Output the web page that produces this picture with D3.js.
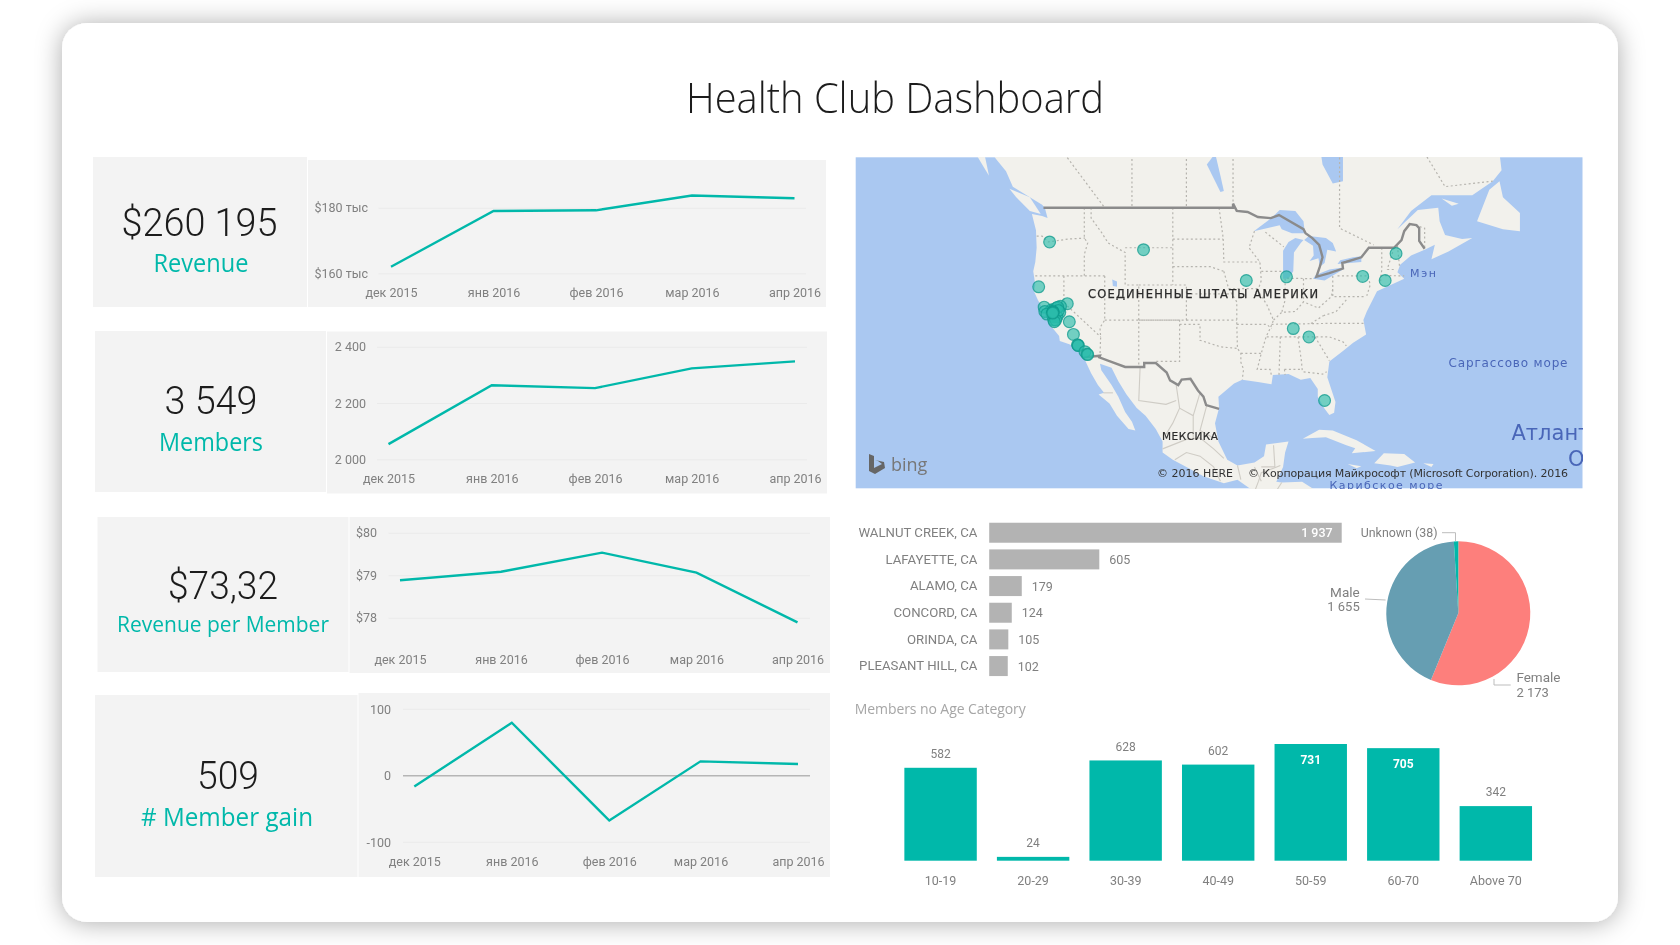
<!DOCTYPE html>
<html><head><meta charset="utf-8">
<script src="https://cdn.jsdelivr.net/npm/d3@7"></script>
<style>
html,body{margin:0;padding:0;background:#fff;overflow:hidden}
svg{display:block}
text{font-family:Roboto,sans-serif}
.axis text{font-family:Roboto,sans-serif;font-size:12.5px;fill:#808080}
.axis .domain{display:none}
.city text{font-size:13px}
</style></head><body>
<svg id="c" width="1680" height="945"></svg>
<script>
// ---------- data ----------
const months = ["2015-12-01","2016-01-01","2016-02-01","2016-03-01","2016-04-01"];
const monthLabels = ["дек 2015","янв 2016","фев 2016","мар 2016","апр 2016"];
const revenue = [162000,179000,179200,183700,182900];
const members = [2054,2263,2253,2323,2348];
const revenuePerMember = [78.88,79.08,79.53,79.06,77.89];
const memberGain = [-17,79,-68,21,17];
const revenueTicks = [160000,180000], revenueTickLabels = ["$160 тыс","$180 тыс"];
const memberTicks = [2000,2200,2400], memberTickLabels = ["2 000","2 200","2 400"];
const rpmTicks = [78,79,80], rpmTickLabels = ["$78","$79","$80"];
const gainTicks = [-100,0,100], gainTickLabels = ["-100","0","100"];
const kpiValues = ["$260 195","3 549","$73,32","509"];
const kpiNames = ["Revenue","Members","Revenue per Member","# Member gain"];
const cities = ["WALNUT CREEK, CA","LAFAYETTE, CA","ALAMO, CA","CONCORD, CA","ORINDA, CA","PLEASANT HILL, CA"];
const cityMembers = [1937,605,179,124,105,102];
const genders = ["Female","Male","Unknown"];
const genderMembers = [2173,1655,38];
const ageGroups = ["10-19","20-29","30-39","40-49","50-59","60-70","Above 70"];
const ageMembers = [582,24,628,602,731,705,342];
const mapPoints = [[-122.1,45.6],[-108.3,44.8],[-93.2,41.5],[-87.3,41.9],[-76.1,41.95],[-72.8,41.5],[-71.2,44.4],
 [-123.7,40.8],[-119.5,38.9],[-119.2,36.8],[-118.6,35.3],[-117.9,34.0],[-118.0,34.05],[-117.9,33.95],[-116.9,33.2],[-116.6,32.9],[-116.5,32.85],
 [-86.3,36.0],[-84.0,35.0],[-81.7,27.0],
 [-121.9,38.1],[-121.8,38.2],[-121.7,37.9],[-121.65,37.9],[-121.6,37.85],[-121.55,37.8],[-121.7,37.6],[-121.6,37.5],[-121.5,37.4],[-121.75,37.75],
 [-122.9,38.5],[-122.8,38.0],[-122.5,37.7],[-120.5,38.6],[-120.6,37.9],[-121,37.4],[-121.5,37.0],
 [-121.1,38.4],[-120.9,38.5],[-120.8,38.1],[-121.2,37.0],[-121.4,36.8],[-121.6,38.0],[-121.62,37.93],[-121.58,37.88],[-121.65,37.82]];
const land = [[-140,58],[-134,56],[-131,54.4],[-130,53.5],[-128.5,52.4],[-127.5,51],[-125,50],[-123.2,49.3],[-122.8,49],[-122.4,48],[-123.2,48.2],[-124.7,48.4],[-124.1,46.8],[-124,45],[-124.2,43.5],[-124.5,42.5],[-124.2,41],[-124.4,40.3],[-123.8,39.3],[-123,38.2],[-122.5,37.6],[-122,36.8],[-121.9,36.3],[-120.7,35.1],[-120.6,34.5],[-119.2,34.1],[-118.4,33.8],[-117.3,33],[-117.1,32.5],[-116,30.5],[-115,29],[-114.1,28],[-114.9,27.8],[-113.3,26.6],[-112.2,25],[-110.5,23.2],[-109.5,23],[-110,24.2],[-111,25.5],[-112,27.5],[-113,29],[-114.5,30.9],[-114.7,31.7],[-113,31.2],[-112,29.5],[-110.8,27.8],[-109.3,26],[-108,25],[-106.5,23.2],[-105.5,21.5],[-105.5,20],[-104,19],[-102,18],[-99.5,16.7],[-96.5,15.7],[-94.5,16.2],[-92,14.5],[-90,13.7],[-87.5,13],[-85.5,11],[-83,8.5],[-77,8],[-77,9],[-80,9.2],[-83.5,10.5],[-83.5,15],[-85,15.9],[-88,15.8],[-88.8,15.9],[-87.8,18],[-87.5,20],[-87,21.5],[-90.3,21.1],[-90.6,19.5],[-92,18.6],[-94.5,18.2],[-96,19],[-97.3,21.5],[-97.8,24],[-97.2,26],[-97.3,27.5],[-95,29.2],[-93.8,29.7],[-91.5,29.4],[-89.5,29.1],[-89.3,30.3],[-87,30.4],[-85.2,29.7],[-83.8,29.9],[-82.7,28.5],[-82.7,27.5],[-81.7,25.9],[-81,25.1],[-80.3,25.4],[-80.1,26.8],[-81.3,30],[-81,32],[-79,33.3],[-77.5,34.3],[-75.6,35.3],[-76,37],[-75.5,38],[-74,40.3],[-72,41],[-70,41.7],[-71,42.4],[-70.6,43.2],[-69,44.2],[-67,44.8],[-65.5,45.3],[-66,43.8],[-63.5,44.6],[-60,46],[-61.5,45.9],[-64,46.3],[-64.8,47.7],[-65,49],[-68,48.8],[-71,46.9],[-69,48.7],[-66,50.2],[-60,50.2],[-57,51.5],[-55.7,52.5],[-56,54],[-56,56],[-60,62],[-140,62]];
const islands = [
 [[-84.9,21.9],[-82.5,23.1],[-80.5,23],[-77,21.7],[-74.2,20.2],[-77.7,19.9],[-77.2,20.6],[-78.5,21],[-81.5,22.1],[-83.5,22]],
 [[-74.4,18.5],[-73,19.9],[-70,19.8],[-68.4,18.6],[-71,18],[-72,18.2]],
 [[-78.3,18.4],[-76.3,18.1],[-77,17.8]],[[-67.2,18.5],[-65.7,18.4],[-66,18]],
 [[-128,50.8],[-125,50],[-123.4,48.4],[-125,48.7],[-127,50]],
 [[-133,54],[-131.7,54],[-131,52],[-132,53]],
 [[-59.3,47.7],[-57.5,50.7],[-56,51.5],[-55.5,50],[-53,48.5],[-53,46.7],[-55.5,46.9]],
 [[-64.5,49.9],[-62,49.4],[-63,49.2]]];
const lakes = [
 [[-92.1,46.7],[-89.5,48],[-88.3,48.8],[-86,48.7],[-84.8,47.7],[-84.6,46.5],[-86.5,46.5],[-88,46.9],[-88.3,47.3]],
 [[-87.8,41.7],[-87,41.7],[-86.3,42.5],[-86.2,44.5],[-85.2,45.5],[-84.8,45.8],[-86,46],[-87,45.6],[-87.8,44.7],[-87.8,43]],
 [[-84.7,45.8],[-83.4,45.2],[-83.3,44.2],[-83.9,43.6],[-82.6,43.9],[-82.4,43],[-81.7,43.4],[-81.3,44.8],[-80,44.6],[-80.5,45.5],[-81.5,46],[-84,46.2]],
 [[-83.4,41.7],[-81.7,41.5],[-79,42.7],[-79,42.9],[-81,42.7],[-83,42.1]],
 [[-79.8,43.3],[-76.3,43.5],[-76.3,44.1],[-77.5,44],[-79.4,43.7]],
 [[-82.5,55],[-82,53],[-80.5,51.3],[-79,51.5],[-79,54],[-77,56],[-92,58],[-85,55.5]],
 [[-98,53.8],[-99,53],[-97,50.5],[-96.5,50.6],[-97,52],[-97.7,53.8]],
 [[-112.9,41.6],[-112.2,41.4],[-112.2,40.8],[-112.8,40.9]]];
const nationalBorders = [
 [[-123,49],[-95.15,49],[-95.15,49.4],[-94.6,48.7],[-93,48.6],[-91.5,48.1],[-89.6,48],[-88.4,48.3],[-84.8,46.9],[-84.5,46.5],[-83.5,46],[-82.5,45.3],[-82,44],[-82.4,43],[-82.9,41.9],[-81,42.3],[-79,42.8],[-79.1,43.4],[-78.6,43.5],[-76.3,44],[-75.2,45],[-71.5,45],[-70.4,45.8],[-70,46.7],[-69.2,47.4],[-68.2,47.3],[-67.8,47],[-67.8,45.7],[-67,44.9]],
 [[-117.1,32.5],[-114.7,32.7],[-114.8,32.5],[-111,31.3],[-108.2,31.3],[-108.2,31.8],[-106.5,31.8],[-104.9,30.6],[-104.4,29.6],[-103.2,29],[-102.7,29.7],[-101.4,29.8],[-100.3,28.3],[-99.5,27.5],[-99.1,26.4],[-97.2,25.9]]];
const stateBorders = [
 [[-124,46.2],[-123.2,46.2],[-122.3,45.6],[-119.3,45.9],[-116.9,46]],[[-124.2,42],[-114,42]],
 [[-117,49],[-117,46],[-116.5,45.5],[-117,44.3],[-117,42]],[[-120,42],[-120,39],[-114.6,35]],[[-114,42],[-114,37],[-114.7,36.1],[-114.6,35],[-114.7,32.7]],
 [[-116,49],[-116,48],[-114.5,46.6],[-113.5,45.5],[-111,44.5],[-111,41],[-109,41]],[[-111,45],[-104,45]],
 [[-109,41],[-102,41],[-102,37],[-109,37],[-109,41]],[[-114,37],[-109,37],[-109,31.3]],[[-109,37],[-103,37],[-103,32],[-106.6,32]],
 [[-104,49],[-104,41]],[[-104,45.9],[-96.6,45.9]],[[-104,43],[-98.5,43],[-96.5,42.5]],[[-102,40],[-95.3,40]],[[-102,37],[-94.6,37]],
 [[-103,36.5],[-100,36.5],[-100,34.6],[-97,33.8],[-94.5,33.6]],[[-97.2,49],[-96.6,46],[-96.5,43.5],[-91.2,43.5]],[[-95.8,40.6],[-91.5,40.6]],
 [[-96.5,42.5],[-95.8,40.6],[-95.3,40],[-94.6,39.1],[-94.6,36.5],[-94.5,33.6],[-94,33],[-94,31.9],[-93.6,31],[-93.8,29.7]],[[-94.6,36.5],[-90.2,36.5],[-89.5,36]],
 [[-92,46.7],[-92.8,45],[-91.2,43.5],[-91,41.5],[-91.5,40.4],[-90.2,38.8],[-89.2,37],[-89.7,36],[-90.3,35],[-91,33],[-91.6,31],[-89.7,31],[-89.5,30.2]],[[-94,33],[-91,33]],
 [[-91,42.5],[-87.8,42.5]],[[-87.5,41.7],[-87.5,39.3],[-88,37.9]],[[-84.8,41.7],[-84.8,39.1]],[[-89.2,37],[-88,37.9],[-86,38],[-84.8,39.1],[-82.6,38.4],[-80.7,39.7],[-80.5,40.6]],
 [[-80.5,42],[-80.5,39.7],[-75.7,39.7]],[[-79.8,42],[-75.3,42],[-75,41],[-75.5,39.8]],[[-89.5,36.5],[-81.7,36.6],[-75.9,36.6]],[[-90.2,35],[-81,35],[-79,34.4],[-78.5,33.9]],
 [[-85.6,35],[-85.1,32],[-85,31],[-84.9,30.7],[-82,30.4],[-81.4,30.7]],[[-83.1,35],[-81,32.1]],[[-88.2,35],[-88.4,30.3]],[[-87.6,31],[-85,31]],[[-87.6,31],[-87.5,30.3]],
 [[-81.9,37.5],[-80,38],[-78.3,39.5]],[[-83.7,36.6],[-81.9,37.5]],[[-73.3,45],[-73.3,42.7],[-73.5,41.2]],[[-73.5,42.05],[-70,42]],[[-72.5,42.7],[-71.3,42.7]],[[-71.5,45],[-72.5,42.7]],[[-71,45.2],[-70.7,43.1]],
 [[-87.2,41.75],[-83.4,41.7]],[[-90.4,46.6],[-87.7,45.1]],
 [[-120,60],[-120,54],[-114,49]],[[-110,60],[-110,49]],[[-102,60],[-102,49]],[[-95.15,60],[-95.15,49.4]],[[-79.5,54],[-79.5,47],[-74.5,45.3]],[[-67,54],[-64,51],[-57,51.5]],[[-69,47.4],[-67,47],[-67,45]]];
const mexicoBorders = [
 [[-108.8,31.3],[-109,27],[-105,26.5],[-103.5,27]],[[-103.5,29],[-103,26],[-101,25],[-101,22]],[[-105,22.5],[-104,24],[-103,26]],[[-100,28],[-101,25]],
 [[-99,26.4],[-100,23],[-98,22]],[[-105.5,20.5],[-102,21.8],[-100,22],[-98,20.5],[-96.5,19.2]],[[-103.7,19],[-102,20],[-100,19.5],[-98,18],[-97,16]],[[-94.5,18.2],[-94,16.2]],
 [[-92,18],[-91,16]],[[-91,18],[-89,18],[-89.2,21]],[[-114.2,28],[-112.8,28]],[[-92,14.5],[-91.4,16],[-91,17.2],[-89.2,17.8],[-88.2,18.2]],[[-89.2,14],[-88,15.8]]];

// ---------- page ----------
const svg = d3.select("#c");
const defs = svg.append("defs");
const sh = defs.append("filter").attr("id","shadow").attr("x","-5%").attr("y","-8%").attr("width","110%").attr("height","116%");
sh.append("feDropShadow").attr("dx",0).attr("dy",1).attr("stdDeviation",13).attr("flood-color","#000").attr("flood-opacity",.33);
defs.append("filter").attr("id","soft").append("feGaussianBlur").attr("stdDeviation",.35);
const soft = defs.append("filter").attr("id","softer");
soft.append("feGaussianBlur").attr("stdDeviation",.55);
svg.append("rect").attr("x",62).attr("y",23).attr("width",1556).attr("height",899).attr("rx",25).attr("fill","#fff").attr("filter","url(#shadow)");
const root = svg.append("g").attr("filter","url(#soft)");

root.append("text").text("Health Club Dashboard").attr("x",895).attr("y",113).attr("text-anchor","middle")
 .attr("textLength",418).attr("lengthAdjust","spacingAndGlyphs")
 .style("font-family","'Open Sans'").style("font-weight",300).style("font-size","42px").attr("fill","#1f1f1f");

const TEAL = "#01B8AA";
const dates = months.map(d => new Date(d+"T00:00:00Z"));
const layouts = [
 {box:[93,157,307,307],chart:[307,160,826,307],xr:[391,794.5],gx:[378.5,806],yd:[180000,160000],yr:[207.7,273.3],xl:295,vals:revenue,ticks:revenueTicks,labs:revenueTickLabels,lx:368,
  vx:199.5,vy:236,vs:39,vw:156,nx:201,ny:271.7,ns:25,nw:95},
 {box:[95,331,326,492],chart:[326,331.5,827,493.5],xr:[388.5,795],gx:[377,807],yd:[2400,2000],yr:[346.7,459.3],xl:481,vals:members,ticks:memberTicks,labs:memberTickLabels,lx:366,
  vx:211,vy:414,vs:39,vw:93,nx:211,ny:450.5,ns:25,nw:104},
 {box:[97.5,517,348.5,672],chart:[348.5,517,830,673],xr:[400,797.5],gx:[388.5,810],yd:[80,78],yr:[532.7,617.7],xl:662,vals:revenuePerMember,ticks:rpmTicks,labs:rpmTickLabels,lx:377,
  vx:223,vy:598.7,vs:39,vw:110,nx:223,ny:631.7,ns:22.5,nw:212},
 {box:[95,695,357.5,877],chart:[357.5,693,830,877],xr:[414.3,798],gx:[403,810],yd:[100,-100],yr:[708.8,841.8],xl:864,vals:memberGain,ticks:gainTicks,labs:gainTickLabels,lx:391,
  vx:228,vy:789,vs:39,vw:62,nx:227,ny:826,ns:25,nw:172}];

layouts.forEach((L,i)=>{
 const g = root.append("g");
 g.append("rect").attr("x",L.box[0]).attr("y",L.box[1]).attr("width",L.box[2]-L.box[0]).attr("height",L.box[3]-L.box[1]).attr("fill","#f3f3f3");
 g.append("rect").attr("x",L.chart[0]+1).attr("y",L.chart[1]).attr("width",L.chart[2]-L.chart[0]-1).attr("height",L.chart[3]-L.chart[1]).attr("fill","#f3f3f3");
 g.append("text").text(kpiValues[i]).attr("x",L.vx).attr("y",L.vy).attr("text-anchor","middle").attr("textLength",L.vw).attr("lengthAdjust","spacingAndGlyphs")
  .style("font-size",L.vs+"px").style("font-weight",300).attr("fill","#1c1c1c");
 g.append("text").text(kpiNames[i]).attr("x",L.nx).attr("y",L.ny).attr("text-anchor","middle").attr("textLength",L.nw).attr("lengthAdjust","spacingAndGlyphs")
  .style("font-family","'Open Sans'").style("font-size",L.ns+"px").attr("fill",TEAL);
 const x = d3.scaleUtc().domain([dates[0],dates[4]]).range(L.xr);
 const y = d3.scaleLinear().domain(L.yd).range(L.yr);
 const ya = g.append("g").attr("class","axis").attr("transform",`translate(${L.gx[0]},0)`)
  .call(d3.axisLeft(y).tickValues(L.ticks).tickSize(-(L.gx[1]-L.gx[0])).tickPadding(L.gx[0]-L.lx).tickFormat((d,j)=>L.labs[j]));
 ya.selectAll("line").attr("stroke",d=>(i===3&&d===0)?"#b5b5b5":"#eaeaea").attr("stroke-width",d=>(i===3&&d===0)?1.5:1);
 ya.selectAll("text").attr("dy","0.34em");
 const xa = g.append("g").attr("class","axis").attr("transform",`translate(0,${L.xl-9})`)
  .call(d3.axisBottom(x).tickValues(dates).tickSize(0).tickPadding(0).tickFormat((d,j)=>monthLabels[j]));
 xa.selectAll("text").attr("dy","0.85em");
 g.append("path").attr("d",d3.line().x((d,j)=>x(dates[j])).y(d=>y(d))(L.vals)).attr("fill","none").attr("stroke",TEAL).attr("stroke-width",2.4);
});

// ---------- map ----------
const MX=855.7, MY=157.3, MW=726.8, MH=331;
defs.append("clipPath").attr("id","mapclip").append("rect").attr("x",MX).attr("y",MY).attr("width",MW).attr("height",MH);
const map = root.append("g").attr("clip-path","url(#mapclip)");
const proj = d3.geoMercator().scale(390).translate([1880.7,591.5]);
const poly = d3.line().x(d=>proj(d)[0]).y(d=>proj(d)[1]);
const closed = pts => poly(pts)+"Z";
const WATER="#aac8f1", LAND="#f2f1ec";
const mapG = map.append("g").attr("filter","url(#softer)");
mapG.append("rect").attr("x",MX).attr("y",MY).attr("width",MW).attr("height",MH).attr("fill",WATER);
mapG.append("path").attr("d",closed(land)).attr("fill",LAND);
mapG.selectAll(".isl").data(islands).join("path").attr("d",closed).attr("fill",LAND);
mapG.selectAll(".lake").data(lakes).join("path").attr("d",closed).attr("fill",WATER);
mapG.selectAll(".mx").data(mexicoBorders).join("path").attr("d",poly).attr("fill","none").attr("stroke","#cfccc5").attr("stroke-width",1.1);
mapG.selectAll(".st").data(stateBorders).join("path").attr("d",poly).attr("fill","none").attr("stroke","#b6b4ae").attr("stroke-width",1.2).attr("stroke-dasharray","2 2.5");
mapG.selectAll(".nb").data(nationalBorders).join("path").attr("d",poly).attr("fill","none").attr("stroke","#8b8b8b").attr("stroke-width",2.4);
map.selectAll(".pt").data(mapPoints).join("circle").attr("cx",d=>proj(d)[0]).attr("cy",d=>proj(d)[1]).attr("r",5.9)
 .attr("fill","#2bbcaa").attr("fill-opacity",.64).attr("stroke","#0f9a8c").attr("stroke-opacity",.75).attr("stroke-width",1.2);
const mapText=(t,x,y,s,c,a,w,ff)=>map.append("text").text(t).attr("x",x).attr("y",y).attr("text-anchor",a||"middle").style("font-size",s+"px").attr("fill",c).style("font-weight",w||400).style("font-family",ff||"'DejaVu Sans'");
const sea="#4a66b8";
mapText("СОЕДИНЕННЫЕ ШТАТЫ АМЕРИКИ",1203,298,11.5,"#2a2a2a","middle",400).attr("textLength",230).attr("stroke","#2a2a2a").attr("stroke-width",.25);
mapText("МЕКСИКА",1190,440,10.5,"#2a2a2a").attr("textLength",56).attr("stroke","#2a2a2a").attr("stroke-width",.2);
mapText("Мэн",1423,277,11,sea).attr("textLength",26);
mapText("Саргассово море",1508,367,12,sea).attr("textLength",119);
mapText("Атлантический",1511.5,440,21,sea,"start");
mapText("Океан",1568,466,21,sea,"start");
mapText("Карибское море",1386,489,11,sea).attr("textLength",113);
mapText("© 2016 HERE",1157,477,11,"#333","start").attr("textLength",76);
mapText("© Корпорация Майкрософт (Microsoft Corporation). 2016",1248,477,11,"#333","start").attr("textLength",320);
mapText("bing",891,471,18,"#777","start",400,"'Open Sans'");
map.append("path").attr("d","M869,454 L874,456 L874,468 L882,464 L878,461 L875,460 L884,462 L885,468 L875,474 L869,471Z").attr("fill","#666");

// ---------- city bars ----------
const cityG = root.append("g");
const bx = d3.scaleLinear().domain([0,1937]).range([989.2,1341.7]);
const by = d3.scaleBand().domain(cities).range([519.4,679.4]).paddingInner(.25).paddingOuter(.125);
cityG.selectAll("rect").data(cities).join("rect").attr("x",bx(0)).attr("y",d=>by(d)).attr("width",(d,i)=>bx(cityMembers[i])-bx(0)).attr("height",by.bandwidth()).attr("fill","#b3b3b3");
const cax = cityG.append("g").attr("class","axis city").attr("transform","translate(977.4,0)").call(d3.axisLeft(by).tickSize(0).tickPadding(0));
cax.selectAll("text").style("font-size","13.2px");
cityG.selectAll(".val").data(cities).join("text").text((d,i)=>d3.format(",")(cityMembers[i]).replace(/,/g," "))
 .attr("x",(d,i)=>i===0?bx(cityMembers[0])-9:bx(cityMembers[i])+10).attr("y",d=>by(d)+by.bandwidth()/2+.5).attr("dy","0.34em")
 .attr("text-anchor",(d,i)=>i===0?"end":"start").style("font-size","12.5px").style("font-weight",(d,i)=>i===0?500:400).attr("fill",(d,i)=>i===0?"#fff":"#808080");

// ---------- pie ----------
const pieG = root.append("g").attr("transform","translate(1458.3,613.3)");
const pieColors = d3.scaleOrdinal().domain(genders).range(["#FD7F7C","#669EB2",TEAL]);
const arcs = d3.pie().sort(null)(genderMembers);
pieG.selectAll("path").data(arcs).join("path").attr("d",d3.arc().innerRadius(0).outerRadius(72)).attr("fill",(d,i)=>pieColors(genders[i]));
const leader=[[[1442,532.7],[1455.5,532.7],[1455.5,541]],[[1365,599],[1385.6,600]],[[1494,679],[1494,685],[1510.7,685]]];
root.selectAll(".lead").data(leader).join("path").attr("d",d3.line()).attr("fill","none").attr("stroke","#bdbdbd").attr("stroke-width",1);
const pl=(t,x,y,a,s)=>root.append("text").text(t).attr("x",x).attr("y",y).attr("text-anchor",a).attr("dy","0.34em").style("font-size",(s||13)+"px").attr("fill","#808080");
pl(`${genders[2]} (${genderMembers[2]})`,1437.5,532.7,"end",12.4);
pl(genders[1],1359.7,592.7,"end",13.5);pl("1 655",1359.7,607,"end");
pl(genders[0],1516.4,677,"start",13.5);pl("2 173",1516.4,692.7,"start");

// ---------- age columns ----------
const ageG = root.append("g");
ageG.append("text").text("Members no Age Category").attr("x",854.7).attr("y",713.5).style("font-size","14px").style("font-family","'Open Sans'").attr("fill","#a6a6a6").attr("textLength",171);
const ax = d3.scaleBand().domain(ageGroups).range([894,1542.4]).paddingInner(.2175).paddingOuter(.112);
const ay = d3.scaleLinear().domain([0,731]).range([860.7,744]);
ageG.selectAll("rect").data(ageGroups).join("rect").attr("x",d=>ax(d)).attr("width",ax.bandwidth()).attr("y",(d,i)=>ay(ageMembers[i])).attr("height",(d,i)=>ay(0)-ay(ageMembers[i])).attr("fill",TEAL);
const aax = ageG.append("g").attr("class","axis").attr("transform","translate(0,874)").call(d3.axisBottom(ax).tickSize(0).tickPadding(0));
aax.selectAll("text").attr("dy","0.85em");
ageG.selectAll(".v").data(ageGroups).join("text").text((d,i)=>ageMembers[i])
 .attr("x",d=>ax(d)+ax.bandwidth()/2).attr("y",(d,i)=>ageMembers[i]>700?ay(ageMembers[i])+15.5:ay(ageMembers[i])-14).attr("dy","0.34em").attr("text-anchor","middle")
 .style("font-size","12px").style("font-weight",(d,i)=>ageMembers[i]>700?700:400).attr("fill",(d,i)=>ageMembers[i]>700?"#fff":"#808080");
</script></body></html>
